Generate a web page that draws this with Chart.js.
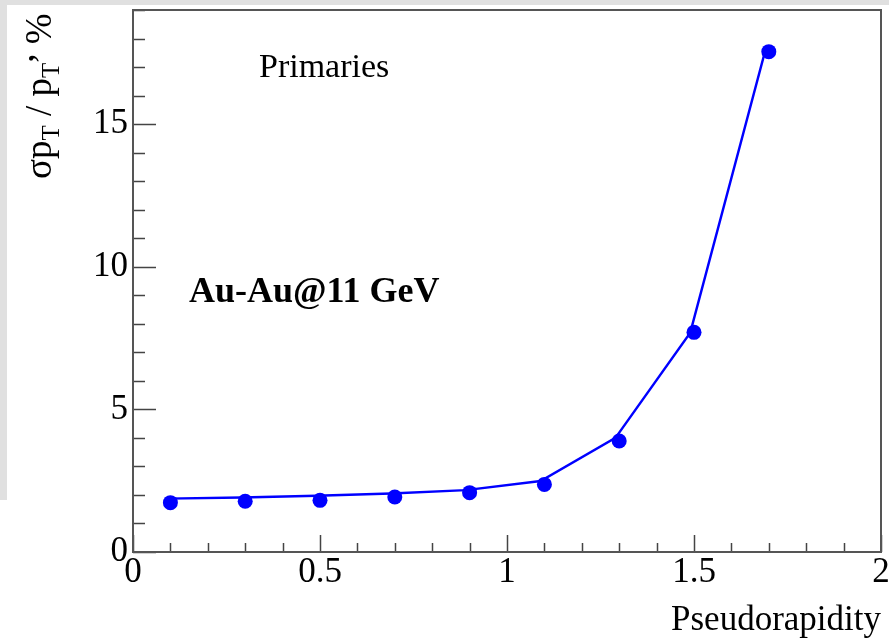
<!DOCTYPE html>
<html lang="en">
<head>
  <meta charset="UTF-8">
  <title>Primaries - Au-Au@11 GeV</title>
  <script src="https://cdn.jsdelivr.net/npm/chart.js"></script>
  <style>
    html, body { margin: 0; padding: 0; background: #fff; }
    #wrap { width: 889px; height: 639px; }
  </style>
</head>
<body>
  <div id="wrap"><canvas id="grafico" width="889" height="639"></canvas></div>

  <script>
    // measured points (markers)
    const eta = [0.1, 0.3, 0.5, 0.7, 0.9, 1.1, 1.3, 1.5, 1.7];
    const sigma = [1.73, 1.78, 1.81, 1.93, 2.08, 2.37, 3.89, 7.70, 17.54];
    // the connecting line sits a little off the markers in the original
    const lineEta = [0.09, 0.29, 0.49, 0.69, 0.89, 1.09, 1.29, 1.49, 1.69];
    const lineSigma = [1.87, 1.91, 1.97, 2.05, 2.17, 2.49, 4.00, 7.69, 17.55];
    const xTicks = [0, 0.5, 1, 1.5, 2];
    const yTicks = [0, 5, 10, 15];

    const SERIF = '"Liberation Serif", "Times New Roman", serif';

    const rootStyle = {
      id: 'rootStyle',
      beforeDraw(chart) {
        const ctx = chart.ctx;
        ctx.save();
        ctx.fillStyle = '#ffffff';
        ctx.fillRect(0, 0, chart.width, chart.height);
        ctx.fillStyle = '#e0e0e0';
        ctx.fillRect(0, 0, chart.width, 5);
        ctx.fillRect(0, 0, 7, 500);
        ctx.restore();
      },
      beforeDatasetsDraw(chart) {
        const ctx = chart.ctx;
        const a = chart.chartArea;
        const xs = chart.scales.x, ys = chart.scales.y;
        ctx.save();
        ctx.strokeStyle = '#444';
        ctx.lineWidth = 1.5;
        ctx.beginPath();
        // y ticks (major every 5, minor every 1)
        for (let v = 0; v <= 19; v++) {
          const py = Math.round(ys.getPixelForValue(v)) + 0.5;
          const len = v % 5 === 0 ? 23 : 12;
          ctx.moveTo(a.left, py);
          ctx.lineTo(a.left + len, py);
        }
        // x ticks (major every 0.5, minor every 0.1)
        for (let i = 0; i <= 20; i++) {
          const px = Math.round(xs.getPixelForValue(i / 10)) + 0.5;
          const len = i % 5 === 0 ? 17 : 9;
          ctx.moveTo(px, a.bottom);
          ctx.lineTo(px, a.bottom - len);
        }
        ctx.stroke();
        ctx.lineWidth = 2;
        ctx.strokeStyle = '#555';
        ctx.strokeRect(a.left, a.top, a.right - a.left, a.bottom - a.top);
        ctx.restore();
      },
      afterDraw(chart) {
        const ctx = chart.ctx;
        ctx.save();
        ctx.fillStyle = '#000';
        ctx.textBaseline = 'alphabetic';
        ctx.textAlign = 'left';

        ctx.font = '34px ' + SERIF;
        ctx.fillText('Primaries', 259, 77);
        ctx.font = 'bold 36px ' + SERIF;
        ctx.fillText('Au-Au@11 GeV', 189, 302);

        // y title: sigma p_T / p_T, %
        ctx.translate(51, 179);
        ctx.rotate(-Math.PI / 2);
        const big = '37px ' + SERIF, small = '25px ' + SERIF;
        let cx = 0;
        const put = (txt, font, dy) => {
          ctx.font = font;
          ctx.fillText(txt, cx, dy);
          cx += ctx.measureText(txt).width;
        };
        put('σp', big, 0);
        put('T', small, 8);
        put(' / p', big, 0);
        put('T', small, 8);
        put(',', big, -18);
        put(' %', big, 0);
        ctx.restore();
      }
    };

    new Chart(document.getElementById('grafico'), {
      type: 'scatter',
      data: {
        datasets: [
          {
            label: 'points',
            data: eta.map((v, i) => ({ x: v, y: sigma[i] })),
            showLine: false,
            pointRadius: 7.5,
            pointBorderWidth: 0,
            pointBackgroundColor: '#0000ff',
            pointBorderColor: '#0000ff',
            order: 0
          },
          {
            label: 'line',
            data: lineEta.map((v, i) => ({ x: v, y: lineSigma[i] })),
            showLine: true,
            borderColor: '#0000ff',
            borderWidth: 2.4,
            pointRadius: 0,
            order: 1
          }
        ]
      },
      options: {
        responsive: false,
        animation: false,
        layout: { padding: { top: 10, right: 8, left: 0, bottom: 0 } },
        plugins: { legend: { display: false }, tooltip: { enabled: false } },
        scales: {
          x: {
            type: 'linear',
            position: 'bottom',
            min: 0,
            max: 2,
            grid: { display: false, drawTicks: false },
            border: { display: false },
            afterBuildTicks: s => { s.ticks = xTicks.map(v => ({ value: v })); },
            afterFit: s => { s.height = 87; s.paddingLeft = 0; s.paddingRight = 0; },
            ticks: {
              autoSkip: false,
              maxRotation: 0,
              padding: 0,
              color: '#000',
              font: { family: SERIF, size: 35, lineHeight: 1.2 },
              callback: v => String(v)
            },
            title: {
              display: true,
              text: 'Pseudorapidity',
              align: 'end',
              color: '#000',
              font: { family: SERIF, size: 35, lineHeight: 1 },
              padding: { top: 0, bottom: 1 }
            }
          },
          y: {
            type: 'linear',
            min: 0,
            max: 19,
            grid: { display: false, drawTicks: false },
            border: { display: false },
            afterBuildTicks: s => { s.ticks = yTicks.map(v => ({ value: v })); },
            afterFit: s => { s.width = 133; s.paddingTop = 0; s.paddingBottom = 0; },
            ticks: {
              padding: 5,
              color: '#000',
              font: { family: SERIF, size: 35 },
              callback: v => String(v)
            }
          }
        }
      },
      plugins: [rootStyle]
    });
  </script>
</body>
</html>
